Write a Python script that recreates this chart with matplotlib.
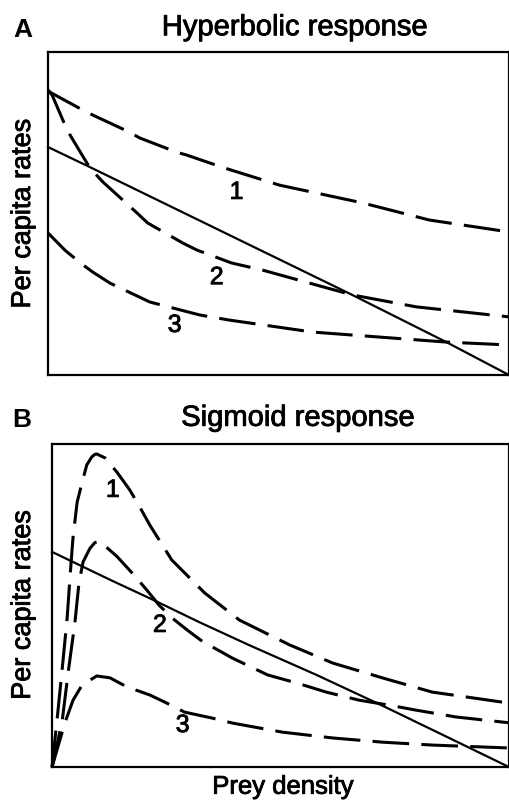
import matplotlib
matplotlib.use("Agg")
import matplotlib.pyplot as plt
import matplotlib.patheffects as pe

plt.rcParams['font.family'] = ['Liberation Sans', 'DejaVu Sans']

# panel A: hyperbolic response (x and y as fractions of the axes)
a1_x = [0, 0.004, 0.076, 0.097, 0.177, 0.199, 0.279, 0.301, 0.383, 0.502, 0.682, 0.827, 1.0]
a1_y = [0.882, 0.876, 0.820, 0.805, 0.752, 0.734, 0.690, 0.681, 0.641, 0.588, 0.533, 0.480, 0.443]
a2_x = [0, 0.009, 0.037, 0.048, 0.091, 0.119, 0.193, 0.216, 0.292, 0.323, 0.398, 0.465,
        0.660, 0.799, 1.0]
a2_y = [0.882, 0.867, 0.774, 0.743, 0.641, 0.598, 0.502, 0.471, 0.409, 0.387, 0.347, 0.325,
        0.248, 0.211, 0.180]
a3_x = [0, 0.038, 0.076, 0.097, 0.134, 0.221, 0.329, 0.394, 0.574, 0.864, 1.0]
a3_y = [0.440, 0.385, 0.341, 0.319, 0.285, 0.226, 0.186, 0.170, 0.133, 0.102, 0.093]
a_solid_x = [0, 0.095, 0.394, 0.660, 0.864, 1.0]
a_solid_y = [0.706, 0.641, 0.433, 0.248, 0.102, 0.0]

# panel B: sigmoid response
b1_x = [0, 0.011, 0.022, 0.033, 0.040, 0.046, 0.055, 0.066, 0.076, 0.087, 0.094, 0.098,
        0.116, 0.142, 0.170, 0.192, 0.214, 0.262, 0.334, 0.410, 0.520, 0.614, 0.723,
        0.832, 1.0]
b1_y = [0, 0.146, 0.300, 0.460, 0.600, 0.712, 0.820, 0.882, 0.935, 0.960, 0.968, 0.969,
        0.957, 0.913, 0.858, 0.805, 0.749, 0.641, 0.539, 0.455, 0.378, 0.322, 0.276,
        0.232, 0.198]
b2_x = [0, 0.022, 0.036, 0.050, 0.059, 0.068, 0.083, 0.094, 0.105, 0.142, 0.177, 0.205,
        0.235, 0.264, 0.295, 0.330, 0.371, 0.395, 0.472, 0.536, 0.600, 0.672, 0.744,
        0.797, 0.884, 1.0]
b2_y = [0, 0.140, 0.300, 0.446, 0.570, 0.635, 0.677, 0.695, 0.698, 0.652, 0.598, 0.552,
        0.500, 0.460, 0.425, 0.388, 0.356, 0.337, 0.285, 0.260, 0.232, 0.207, 0.190,
        0.176, 0.155, 0.137]
b3_x = [0, 0.028, 0.046, 0.066, 0.098, 0.127, 0.164, 0.214, 0.251, 0.290, 0.349, 0.395,
        0.504, 0.614, 0.723, 0.832, 1.0]
b3_y = [0, 0.136, 0.207, 0.254, 0.282, 0.276, 0.248, 0.223, 0.198, 0.170, 0.152, 0.136,
        0.108, 0.090, 0.077, 0.068, 0.059]
b_solid_x = [0, 0.131, 0.225, 0.323, 0.432, 0.579, 0.723, 0.869, 1.0]
b_solid_y = [0.666, 0.577, 0.515, 0.448, 0.377, 0.285, 0.190, 0.090, 0.0]

a_labels = [("1", 0.409, 0.567), ("2", 0.366, 0.303), ("3", 0.275, 0.155)]
b_labels = [("1", 0.133, 0.858), ("2", 0.236, 0.440), ("3", 0.286, 0.130)]

fig = plt.figure(figsize=(5.1, 8.02), dpi=100)
axA = fig.add_axes([0.094, 0.5324, 0.904, 0.4027])
axB = fig.add_axes([0.102, 0.0436, 0.896, 0.4028])

dash = [12, 4]
bold_fx = [pe.withStroke(linewidth=0.6, foreground='black')]


def draw_panel(ax, curves, solid, labels):
    for xs, ys in curves:
        ax.plot(xs, ys, color='black', lw=2.2, dashes=dash, solid_joinstyle='round',
                dash_joinstyle='round', dash_capstyle='butt', clip_on=False)
    ax.plot(solid[0], solid[1], color='black', lw=1.6, clip_on=False)
    for txt, x, y in labels:
        ax.text(x, y, txt, fontsize=18, ha='center', va='center', path_effects=bold_fx)
    ax.set_xlim(0, 1)
    ax.set_ylim(0, 1)
    ax.set_xticks([])
    ax.set_yticks([])
    for s in ax.spines.values():
        s.set_linewidth(1.6)


draw_panel(axA, [(a1_x, a1_y), (a2_x, a2_y), (a3_x, a3_y)], (a_solid_x, a_solid_y), a_labels)
draw_panel(axB, [(b1_x, b1_y), (b2_x, b2_y), (b3_x, b3_y)], (b_solid_x, b_solid_y), b_labels)

fig.text(0.578, 0.966, "Hyperbolic response", fontsize=21, ha='center', va='center',
         path_effects=bold_fx)
fig.text(0.584, 0.479, "Sigmoid response", fontsize=21, ha='center', va='center',
         path_effects=bold_fx)
fig.text(0.044, 0.962, "A", fontsize=19, fontweight='bold', ha='center', va='center')
fig.text(0.043, 0.476, "B", fontsize=19, fontweight='bold', ha='center', va='center')
fig.text(0.045, 0.734, "Per capita rates", fontsize=19.5, rotation=90, ha='center',
         va='center', path_effects=bold_fx)
fig.text(0.045, 0.246, "Per capita rates", fontsize=19.5, rotation=90, ha='center',
         va='center', path_effects=bold_fx)
fig.text(0.555, 0.019, "Prey density", fontsize=18.5, ha='center', va='center',
         path_effects=bold_fx)

fig.savefig("out.png", dpi=100)
